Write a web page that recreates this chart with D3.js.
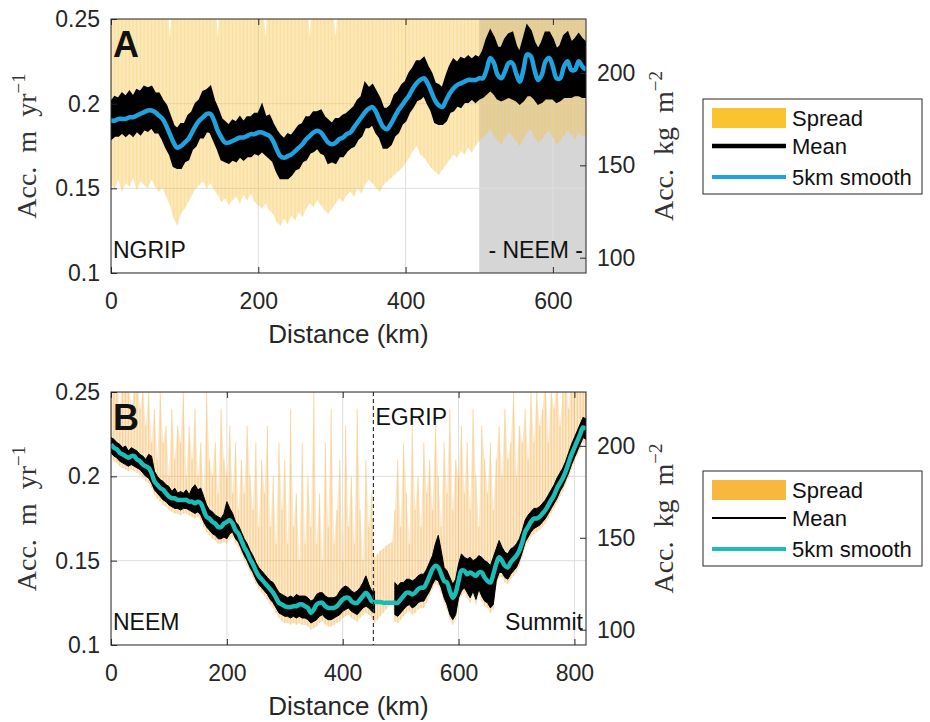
<!DOCTYPE html>
<html><head><meta charset="utf-8">
<script src="https://cdn.jsdelivr.net/npm/d3@7"></script>
<style>body{margin:0;background:#fff}</style>
</head><body><svg id="c" width="930" height="722"></svg>
<script>
// ---------------- Panel A data (distance km, values m ice / yr) ----------------
const distA = [0,5,10,15,20,25,30,35,40,45,50,55,60,65,70,75,80,85,90,95,100,105,110,115,120,125,130,135,140,145,150,155,160,165,170,175,180,185,190,195,200,205,210,215,220,225,230,235,240,245,250,255,260,265,270,275,280,285,290,295,300,305,310,315,320,325,330,335,340,345,350,355,360,365,370,375,380,385,390,395,400,405,410,415,420,425,430,435,440,445,450,455,460,465,470,475,480,485,490,495,500,505,510,515,520,525,530,535,540,545,550,555,560,565,570,575,580,585,590,595,600,605,610,615,620,625,630,635,640,645];
const smoothA = [.190,.190,.191,.191,.191,.192,.192,.193,.194,.195,.196,.196,.195,.193,.191,.187,.182,.177,.174,.175,.177,.179,.183,.187,.190,.192,.194,.194,.190,.184,.180,.177,.177,.178,.179,.180,.180,.181,.182,.182,.183,.183,.182,.181,.178,.173,.169,.168,.169,.170,.172,.174,.176,.179,.181,.183,.184,.183,.180,.177,.176,.177,.179,.180,.182,.183,.186,.189,.192,.195,.197,.198,.195,.190,.186,.185,.188,.192,.196,.199,.202,.205,.209,.212,.214,.215,.212,.207,.202,.199,.198,.202,.206,.209,.211,.212,.213,.214,.214,.214,.215,.215,.220,.227,.224,.217,.215,.219,.224,.224,.218,.213,.220,.229,.228,.220,.214,.217,.225,.227,.222,.215,.215,.222,.225,.220,.220,.225,.222,.220];
const meanHiA = [.201,.204,.203,.206,.204,.207,.204,.208,.207,.210,.209,.210,.206,.206,.202,.199,.193,.187,.185,.188,.188,.193,.195,.200,.202,.207,.208,.210,.202,.197,.191,.189,.187,.190,.189,.192,.189,.192,.192,.194,.194,.199,.192,.193,.188,.184,.181,.179,.182,.181,.184,.187,.188,.192,.192,.195,.195,.196,.192,.190,.188,.191,.191,.193,.194,.196,.198,.202,.204,.212,.209,.211,.207,.203,.197,.197,.199,.205,.207,.211,.213,.218,.221,.225,.225,.227,.222,.218,.212,.211,.209,.216,.222,.226,.224,.227,.226,.228,.226,.228,.227,.231,.238,.243,.239,.233,.233,.238,.241,.242,.234,.230,.238,.246,.243,.236,.232,.236,.242,.242,.238,.232,.234,.240,.242,.236,.238,.241,.238,.236];
const meanLoA = [.179,.181,.181,.183,.181,.183,.181,.184,.182,.185,.184,.186,.183,.183,.179,.174,.170,.163,.162,.162,.166,.167,.173,.175,.180,.180,.184,.183,.178,.173,.167,.166,.165,.167,.166,.169,.167,.169,.169,.171,.170,.172,.170,.168,.166,.160,.156,.156,.156,.158,.161,.162,.166,.167,.171,.172,.174,.171,.170,.165,.166,.165,.169,.169,.172,.174,.175,.179,.181,.186,.186,.188,.183,.180,.174,.174,.176,.181,.183,.188,.190,.195,.198,.202,.203,.205,.200,.196,.189,.188,.188,.190,.195,.196,.199,.198,.201,.201,.203,.201,.203,.204,.206,.208,.206,.203,.202,.203,.204,.203,.202,.200,.202,.205,.205,.203,.200,.201,.203,.203,.203,.201,.202,.204,.204,.204,.205,.205,.204,.204];
const spreadHiA = [.27,.26,.28,.25,.27,.26,.28,.27,.25,.28,.26,.27,.26,.28,.25,.27,.24,.27,.26,.28,.25,.27,.26,.28,.27,.25,.28,.26,.27,.24,.28,.26,.27,.25,.28,.26,.27,.26,.28,.25,.27,.26,.24,.28,.26,.27,.25,.28,.26,.27,.25,.28,.26,.27,.24,.28,.26,.25,.27,.28,.26,.24,.27,.25,.28,.26,.27,.25,.28,.26,.27,.25,.28,.26,.27,.25,.28,.26,.27,.28,.25,.27,.26,.28,.27,.25,.28,.26,.27,.28,.26,.27,.25,.28,.26,.27,.28,.26,.27,.28,.25,.27,.28,.26,.27,.28,.26,.27,.28,.26,.27,.25,.28,.27,.26,.28,.27,.25,.28,.26,.27,.28,.26,.27,.25,.28,.27,.26,.28,.27];
const spreadLoA = [.152,.150,.155,.148,.153,.151,.156,.149,.154,.152,.150,.155,.151,.148,.150,.145,.140,.132,.128,.135,.138,.142,.146,.150,.152,.154,.150,.153,.149,.146,.142,.144,.140,.143,.145,.141,.146,.143,.147,.142,.140,.138,.141,.137,.135,.130,.128,.132,.129,.134,.131,.136,.133,.138,.141,.139,.143,.140,.137,.135,.138,.141,.144,.142,.146,.148,.145,.150,.147,.152,.155,.153,.150,.148,.152,.154,.156,.158,.160,.162,.165,.168,.172,.175,.170,.168,.165,.162,.160,.158,.161,.164,.167,.170,.168,.172,.170,.174,.171,.175,.178,.180,.182,.185,.181,.178,.176,.180,.183,.181,.178,.175,.179,.183,.185,.180,.177,.179,.182,.184,.180,.176,.178,.181,.184,.182,.179,.183,.181,.180];
const neemZoneA = [500, 645];

// ---------------- Panel B data ----------------
const distB = [0,5,10,15,20,25,30,35,40,45,50,55,60,65,70,75,80,85,90,95,100,105,110,115,120,125,130,135,140,145,150,155,160,165,170,175,180,185,190,195,200,205,210,215,220,225,230,235,240,245,250,255,260,265,270,275,280,285,290,295,300,305,310,315,320,325,330,335,340,345,350,355,360,365,370,375,380,385,390,395,400,405,410,415,420,425,430,435,440,445,450,455,460,465,470,475,480,485,490,495,500,505,510,515,520,525,530,535,540,545,550,555,560,565,570,575,580,585,590,595,600,605,610,615,620,625,630,635,640,645,650,655,660,665,670,675,680,685,690,695,700,705,710,715,720,725,730,735,740,745,750,755,760,765,770,775,780,785,790,795,800,805,810,815,820];
const smoothB = [.219,.217,.216,.214,.213,.212,.211,.212,.212,.210,.209,.207,.206,.205,.202,.197,.195,.193,.192,.190,.188,.187,.187,.186,.186,.186,.186,.185,.185,.184,.185,.184,.180,.176,.175,.173,.172,.170,.170,.172,.173,.174,.172,.168,.166,.162,.158,.155,.151,.148,.144,.141,.139,.137,.135,.133,.131,.128,.125,.124,.123,.1225,.1225,.123,.123,.124,.124,.123,.122,.119,.121,.124,.125,.125,.123,.122,.122,.122,.123,.125,.127,.128,.128,.126,.125,.125,.127,.129,.131,.129,.126,.1255,.1255,.1255,.125,.125,.125,.125,.125,.125,.127,.129,.131,.131,.130,.131,.133,.134,.134,.137,.141,.145,.147,.146,.142,.138,.137,.132,.128,.131,.138,.144,.144,.142,.143,.142,.141,.143,.143,.140,.138,.137,.142,.148,.152,.150,.147,.146,.149,.151,.153,.156,.161,.167,.170,.173,.175,.175,.176,.178,.180,.183,.186,.189,.193,.196,.199,.203,.208,.213,.217,.221,.225,.229,.228];
const meanHiB = [.223,.222,.220,.219,.217,.218,.215,.217,.216,.215,.213,.212,.210,.213,.212,.203,.200,.198,.197,.195,.194,.191,.193,.190,.191,.190,.192,.189,.193,.195,.192,.193,.188,.183,.180,.179,.177,.176,.175,.178,.185,.181,.178,.173,.171,.167,.163,.160,.156,.153,.149,.146,.144,.142,.140,.138,.137,.134,.131,.130,.129,.128,.129,.128,.130,.129,.129,.129,.128,.126,.127,.130,.131,.131,.129,.128,.128,.128,.129,.132,.134,.135,.134,.132,.131,.132,.134,.137,.141,.136,.132,.132,null,null,null,null,null,null,.137,.135,.137,.137,.139,.139,.138,.139,.141,.142,.142,.145,.149,.153,.160,.165,.156,.146,.144,.140,.136,.139,.148,.154,.152,.151,.152,.150,.151,.153,.152,.150,.149,.147,.152,.157,.162,.158,.155,.154,.157,.158,.160,.163,.168,.174,.177,.179,.181,.181,.182,.184,.186,.189,.192,.195,.199,.202,.205,.209,.214,.219,.223,.227,.231,.235,.234];
const meanLoB = [.214,.212,.211,.209,.208,.207,.206,.207,.206,.205,.204,.202,.200,.199,.196,.192,.190,.188,.186,.185,.183,.182,.181,.181,.180,.181,.181,.180,.179,.178,.179,.177,.173,.170,.168,.166,.165,.163,.163,.164,.163,.166,.167,.163,.161,.157,.153,.150,.146,.143,.139,.136,.134,.132,.130,.127,.125,.122,.119,.118,.117,.117,.116,.117,.116,.117,.116,.116,.115,.113,.114,.115,.117,.118,.116,.115,.115,.116,.117,.118,.120,.121,.122,.120,.119,.118,.120,.122,.123,.122,.120,.119,null,null,null,null,null,null,.118,.117,.119,.121,.123,.124,.122,.123,.125,.126,.126,.129,.132,.136,.139,.138,.134,.128,.124,.118,.115,.118,.128,.132,.134,.131,.128,.132,.127,.133,.129,.126,.125,.122,.124,.138,.143,.143,.140,.139,.142,.144,.146,.150,.155,.161,.164,.167,.169,.170,.171,.173,.175,.178,.181,.184,.187,.191,.194,.198,.202,.207,.211,.215,.219,.223,.222];
const spreadHiB = [.26,.25,.26,.24,.26,.25,.26,.24,.25,.26,.24,.25,.23,.25,.22,.24,.21,.25,.22,.23,.20,.24,.21,.23,.22,.25,.20,.23,.21,.24,.20,.22,.19,.25,.21,.20,.22,.19,.24,.21,.20,.23,.19,.22,.18,.21,.19,.23,.20,.18,.22,.17,.21,.19,.23,.17,.20,.16,.22,.18,.21,.16,.24,.17,.19,.15,.22,.16,.20,.17,.25,.16,.19,.15,.22,.17,.24,.16,.18,.21,.15,.23,.17,.20,.16,.24,.18,.15,.21,.17,.19,.152,.154,.156,.157,.159,.160,.161,.18,.21,.17,.22,.19,.16,.23,.18,.20,.17,.22,.19,.21,.18,.23,.20,.17,.22,.19,.24,.18,.21,.20,.23,.19,.22,.18,.24,.20,.17,.23,.21,.19,.22,.18,.21,.23,.20,.24,.21,.22,.25,.20,.23,.22,.24,.21,.25,.22,.25,.23,.24,.26,.22,.25,.24,.26,.23,.25,.26,.24,.26,.25,.26,.25,.26,.26];
const spreadLoB = [.211,.209,.208,.206,.205,.204,.203,.204,.203,.202,.201,.199,.197,.196,.193,.189,.187,.185,.183,.182,.180,.179,.178,.178,.177,.178,.178,.177,.176,.175,.176,.174,.170,.167,.165,.163,.162,.160,.160,.161,.160,.163,.164,.160,.158,.154,.150,.147,.143,.140,.136,.133,.131,.129,.127,.124,.122,.119,.116,.114,.113,.113,.112,.113,.112,.113,.112,.112,.111,.109,.110,.111,.113,.114,.112,.111,.111,.112,.113,.114,.116,.117,.118,.116,.115,.114,.116,.118,.119,.118,.116,.113,.115,.117,.119,.121,.123,.125,.114,.113,.115,.117,.119,.120,.118,.119,.121,.122,.122,.125,.129,.133,.136,.135,.131,.125,.121,.115,.112,.115,.125,.129,.131,.128,.125,.129,.124,.130,.126,.123,.122,.119,.121,.135,.140,.140,.137,.136,.139,.141,.143,.147,.152,.158,.161,.164,.166,.167,.168,.170,.172,.175,.178,.181,.184,.188,.191,.195,.199,.204,.208,.212,.216,.220,.219];
const egripDist = 453;

// ---------------- axes / labels ----------------
const yTicks = [0.1, 0.15, 0.2, 0.25];
const yTickLabels = ["0.1", "0.15", "0.2", "0.25"];
const rightTicks = [100, 150, 200];
const iceDensity = 917; // kg m^-3 : m ice -> kg m^-2
const xTicksA = [0, 200, 400, 600];
const xTicksB = [0, 200, 400, 600, 800];
const legendLabels = ["Spread", "Mean", "5km smooth"];

// ---------------- drawing ----------------
const svg = d3.select("#c");
const SANS = "'Liberation Sans', Arial, Helvetica, sans-serif";
const SERIF = "'Liberation Serif', 'DejaVu Serif', serif";
const AX = "#262626";

function drawPanel(cfg) {
  const g = svg.append("g");
  const x = d3.scaleLinear().domain(cfg.xDomain).range([cfg.left, cfg.right]);
  const y = d3.scaleLinear().domain([0.1, 0.25]).range([cfg.bottom, cfg.top]);
  const clipId = "clip" + cfg.id;
  svg.append("clipPath").attr("id", clipId).append("rect")
    .attr("x", cfg.left).attr("y", cfg.top)
    .attr("width", cfg.right - cfg.left).attr("height", cfg.bottom - cfg.top);
  const plot = g.append("g").attr("clip-path", `url(#${clipId})`);

  if (cfg.zone) {
    plot.append("rect").attr("x", x(cfg.zone[0])).attr("y", cfg.top)
      .attr("width", x(cfg.zone[1]) - x(cfg.zone[0])).attr("height", cfg.bottom - cfg.top)
      .attr("fill", "#d6d6d6");
  }
  // grid
  plot.selectAll(".gx").data(cfg.xTicks).join("line")
    .attr("x1", d => x(d)).attr("x2", d => x(d)).attr("y1", cfg.top).attr("y2", cfg.bottom)
    .attr("stroke", "#dedede").attr("stroke-width", 1);
  plot.selectAll(".gy").data(yTicks).join("line")
    .attr("x1", cfg.left).attr("x2", cfg.right).attr("y1", d => y(d)).attr("y2", d => y(d))
    .attr("stroke", "#dedede").attr("stroke-width", 1);

  const pts = cfg.dist.map((d, i) => ({d, s: cfg.smooth[i], hi: cfg.meanHi[i], lo: cfg.meanLo[i], sh: cfg.spreadHi[i], sl: cfg.spreadLo[i]}));

  // spread
  plot.append("path").datum(pts)
    .attr("d", d3.area().x(p => x(p.d)).y0(p => y(p.sl)).y1(p => y(p.sh)))
    .attr("fill", cfg.spreadFill).attr("fill-opacity", cfg.spreadAreaOp);
  plot.selectAll(".streak").data(pts).join("line")
    .attr("x1", p => x(p.d)).attr("x2", p => x(p.d))
    .attr("y1", p => y(p.sl)).attr("y2", p => y(p.sh))
    .attr("stroke", cfg.spreadFill).attr("stroke-width", cfg.streakW).attr("stroke-opacity", cfg.streakOp);

  // mean (envelope of the noisy mean line)
  plot.append("path").datum(pts)
    .attr("d", d3.area().defined(p => p.hi != null).x(p => x(p.d)).y0(p => y(p.lo)).y1(p => y(p.hi)))
    .attr("fill", "#000").attr("stroke", "#000").attr("stroke-width", cfg.meanStroke).attr("stroke-linejoin", "miter");

  // smooth
  plot.append("path").datum(pts)
    .attr("d", d3.line().x(p => x(p.d)).y(p => y(p.s)).curve(d3.curveCatmullRom))
    .attr("fill", "none").attr("stroke", cfg.smoothColor).attr("stroke-width", 4.5).attr("stroke-linejoin", "round");

  if (cfg.egrip != null) {
    g.append("line").attr("x1", x(cfg.egrip)).attr("x2", x(cfg.egrip))
      .attr("y1", cfg.top).attr("y2", cfg.bottom)
      .attr("stroke", "#333").attr("stroke-width", 1.2).attr("stroke-dasharray", "4,3");
  }

  // box
  g.append("rect").attr("x", cfg.left).attr("y", cfg.top)
    .attr("width", cfg.right - cfg.left).attr("height", cfg.bottom - cfg.top)
    .attr("fill", "none").attr("stroke", AX).attr("stroke-width", 1);

  // x axis
  const xa = g.append("g").attr("transform", `translate(0,${cfg.bottom})`)
    .call(d3.axisBottom(x).tickValues(cfg.xTicks).tickSize(0).tickPadding(20).tickFormat(d3.format("d")));
  xa.select(".domain").remove();
  xa.selectAll("text").attr("font-family", SANS).attr("font-size", 23).attr("fill", AX);
  const xt = g.append("g").attr("transform", `translate(0,${cfg.bottom})`)
    .call(d3.axisBottom(x).tickValues(cfg.xTicks).tickSizeInner(-6).tickSizeOuter(0).tickFormat(""));
  xt.select(".domain").remove(); xt.selectAll("line").attr("stroke", AX);
  const xt2 = g.append("g").attr("transform", `translate(0,${cfg.top})`)
    .call(d3.axisTop(x).tickValues(cfg.xTicks).tickSizeInner(-6).tickSizeOuter(0).tickFormat(""));
  xt2.select(".domain").remove(); xt2.selectAll("line").attr("stroke", AX);

  // left y axis
  const ya = g.append("g").attr("transform", `translate(${cfg.left},0)`)
    .call(d3.axisLeft(y).tickValues(yTicks).tickSize(0).tickPadding(11).tickFormat((d, i) => yTickLabels[i]));
  ya.select(".domain").remove();
  ya.selectAll("text").attr("font-family", SANS).attr("font-size", 23).attr("fill", AX);
  const yt = g.append("g").attr("transform", `translate(${cfg.left},0)`)
    .call(d3.axisLeft(y).tickValues(yTicks).tickSizeInner(-6).tickSizeOuter(0).tickFormat(""));
  yt.select(".domain").remove(); yt.selectAll("line").attr("stroke", AX);

  // right axis (kg m^-2)
  const yr = d3.scaleLinear().domain([0.1 * iceDensity, 0.25 * iceDensity]).range([cfg.bottom, cfg.top]);
  const ra = g.append("g").attr("transform", `translate(${cfg.right},0)`)
    .call(d3.axisRight(yr).tickValues(rightTicks).tickSize(0).tickPadding(11).tickFormat(d3.format("d")));
  ra.select(".domain").remove();
  ra.selectAll("text").attr("font-family", SANS).attr("font-size", 23).attr("fill", AX);
  const rt = g.append("g").attr("transform", `translate(${cfg.right},0)`)
    .call(d3.axisRight(yr).tickValues(rightTicks).tickSizeInner(-6).tickSizeOuter(0).tickFormat(""));
  rt.select(".domain").remove(); rt.selectAll("line").attr("stroke", AX);

  // axis titles
  g.append("text").attr("x", (cfg.left + cfg.right) / 2).attr("y", cfg.bottom + 70)
    .attr("text-anchor", "middle").attr("font-family", SANS).attr("font-size", 26).attr("fill", AX)
    .text("Distance (km)");
  const midY = (cfg.top + cfg.bottom) / 2;
  const yl = g.append("text").attr("transform", `translate(36,${midY}) rotate(-90)`)
    .attr("text-anchor", "middle").attr("font-family", SERIF).attr("font-size", 28).attr("fill", "#333");
  yl.append("tspan").text("Acc.\u2002m\u2002yr");
  yl.append("tspan").attr("dy", -11).attr("font-size", 19).text("\u22121");
  const yl2 = g.append("text").attr("transform", `translate(673,${midY}) rotate(-90)`)
    .attr("text-anchor", "middle").attr("font-family", SERIF).attr("font-size", 28).attr("fill", "#333");
  yl2.append("tspan").text("Acc.\u2002kg\u2002m");
  yl2.append("tspan").attr("dy", -11).attr("font-size", 19).text("\u22122");

  // annotations
  g.append("text").attr("x", cfg.left + 2).attr("y", cfg.top + 38)
    .attr("font-family", SANS).attr("font-weight", "bold").attr("font-size", 36).attr("fill", "#111").text(cfg.letter);
  g.append("text").attr("x", cfg.left + 2).attr("y", cfg.bottom - 15)
    .attr("font-family", SANS).attr("font-size", 23).attr("fill", "#111").text(cfg.leftName);
  g.append("text").attr("x", cfg.right - 3).attr("y", cfg.bottom - 15).attr("text-anchor", "end")
    .attr("font-family", SANS).attr("font-size", 23).attr("fill", "#111").text(cfg.rightName);
  if (cfg.egrip != null) {
    g.append("text").attr("x", x(cfg.egrip) + 2).attr("y", cfg.top + 33)
      .attr("font-family", SANS).attr("font-size", 23).attr("fill", "#111").text("EGRIP");
  }

  // legend
  const L = g.append("g");
  L.append("rect").attr("x", 703).attr("y", cfg.legTop).attr("width", 219).attr("height", 95)
    .attr("fill", "#fff").attr("stroke", AX).attr("stroke-width", 1);
  const rows = [cfg.legTop + 19, cfg.legTop + 47, cfg.legTop + 78];
  L.append("rect").attr("x", 712).attr("y", rows[0] - 10).attr("width", 74).attr("height", 20).attr("fill", cfg.legendSpread);
  L.append("line").attr("x1", 712).attr("x2", 786).attr("y1", rows[1]).attr("y2", rows[1])
    .attr("stroke", "#000").attr("stroke-width", cfg.legMeanW);
  L.append("line").attr("x1", 712).attr("x2", 786).attr("y1", rows[2]).attr("y2", rows[2])
    .attr("stroke", cfg.smoothColor).attr("stroke-width", 4);
  L.selectAll(".lt").data(legendLabels).join("text")
    .attr("x", 792).attr("y", (d, i) => rows[i] + 8)
    .attr("font-family", SANS).attr("font-size", 22).attr("fill", "#111").text(d => d);
}

drawPanel({id: "A", letter: "A", left: 111, right: 586, top: 19, bottom: 273, xDomain: [0, 645], xTicks: xTicksA,
  dist: distA, smooth: smoothA, meanHi: meanHiA, meanLo: meanLoA, spreadHi: spreadHiA, spreadLo: spreadLoA,
  zone: neemZoneA, egrip: null, spreadFill: "#f7c548", spreadAreaOp: 0.4, streakW: 1, streakOp: 0.25, meanStroke: 2,
  smoothColor: "#1fa3e0", legendSpread: "#f9c42f", legMeanW: 4.5, legTop: 99, leftName: "NGRIP", rightName: "- NEEM -"});

drawPanel({id: "B", letter: "B", left: 111, right: 586, top: 392, bottom: 645, xDomain: [0, 820], xTicks: xTicksB,
  dist: distB, smooth: smoothB, meanHi: meanHiB, meanLo: meanLoB, spreadHi: spreadHiB, spreadLo: spreadLoB,
  zone: null, egrip: egripDist, spreadFill: "#f5b24e", spreadAreaOp: 0.3, streakW: 1.2, streakOp: 0.4, meanStroke: 1,
  smoothColor: "#1bbdb6", legendSpread: "#f8b73e", legMeanW: 2, legTop: 471, leftName: "NEEM", rightName: "Summit"});
</script>
</body></html>
